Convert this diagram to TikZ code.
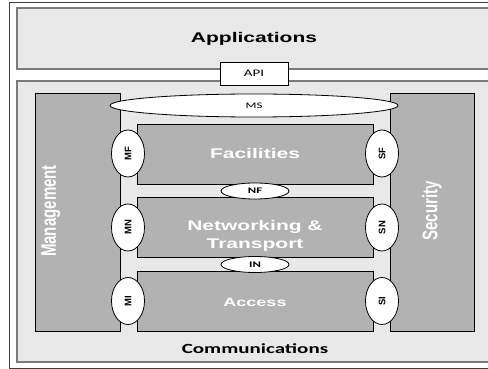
\documentclass[tikz,border=0pt]{standalone}
\usepackage{fontspec}
\setmainfont{Liberation Sans}
\newfontfamily\carlito{Carlito}
\usetikzlibrary{shapes.geometric}

\definecolor{layerlight}{HTML}{E8E8E8}
\definecolor{layerdark}{HTML}{B2B2B2}
\definecolor{layerline}{HTML}{7A7A7A}
\newcommand{\wide}[1]{\scalebox{1.5}[1]{#1}}
\newcommand{\tall}[1]{\scalebox{1}[1.4]{#1}}

\begin{document}
\begin{tikzpicture}[x=1pt,y=-1pt]
			\useasboundingbox (0,0) rectangle (488,369);
			\clip (0,0) rectangle (488,369);
			\draw [draw=black!75,line width=0.8pt] (9,2) rectangle (500,368);

			% the two big layers
			\begin{scope}[every node/.style={rectangle,draw=layerline,line width=1.6pt,fill=layerlight,inner sep=0pt}]
	    		\node [minimum width=474,minimum height=61] (apps) at (254,38.5) {};
	    		\node [minimum width=474,minimum height=281] (comm) at (254,221.5) {};
			\end{scope}
			\node [rectangle,draw=black,line width=0.8pt,fill=white,minimum width=68,minimum height=23,inner sep=0pt,font=\carlito\fontsize{10}{12}\selectfont] (api) at (254,73.5) {\wide{API}};

			% grey blocks
			\begin{scope}[every node/.style={rectangle,draw=black,line width=0.8pt,fill=layerdark,inner sep=0pt}]
	    		\node [minimum width=85,minimum height=238] (mgmt) at (77.5,212) {};
	    		\node [minimum width=84,minimum height=238] (sec) at (432,212) {};
	    		\node [minimum width=236,minimum height=60] (fac) at (255,154) {};
	    		\node [minimum width=236,minimum height=60] (net) at (255,227) {};
	    		\node [minimum width=236,minimum height=60] (acc) at (255,301) {};
			\end{scope}

			% interfaces
			\begin{scope}[every node/.style={ellipse,draw=black,line width=0.8pt,fill=white,inner sep=0pt}]
	    		\node [minimum width=288,minimum height=23,font=\carlito\fontsize{8.5}{10}\selectfont] (ms) at (254,105.5) {\wide{MS}};
	    		\node [minimum width=68,minimum height=16,font=\carlito\fontsize{8.5}{10}\selectfont\bfseries] (nf) at (255,191) {\wide{NF}};
	    		\node [minimum width=68,minimum height=16,font=\carlito\fontsize{8.5}{10}\selectfont\bfseries] (in) at (255,264.5) {\wide{IN}};
			\end{scope}
			\begin{scope}[every node/.style={ellipse,draw=black,line width=0.8pt,fill=white,inner sep=0pt,minimum width=33,minimum height=47,font=\fontsize{9.5}{11}\selectfont\bfseries}]
	    		\node (mf) at (128,153.5) {\rotatebox{90}{MF}};
	    		\node (mn) at (128,227.5) {\rotatebox{90}{MN}};
	    		\node (mi) at (128,301) {\rotatebox{90}{MI}};
	    		\node (sf) at (382,153.5) {\rotatebox{90}{SF}};
	    		\node (sn) at (382,227.5) {\rotatebox{90}{SN}};
	    		\node (si) at (382,301) {\rotatebox{90}{SI}};
			\end{scope}

			% layer names
			\begin{scope}[every node/.style={inner sep=0pt,font=\fontsize{14}{18}\selectfont\bfseries}]
	    		\node [anchor=base] (appstext) at (254,43) {\wide{Applications}};
	    		\node [anchor=base,font=\carlito\fontsize{14}{18}\selectfont\bfseries] (commtext) at (255,353) {\wide{Communications}};
	    		\node [anchor=base,text=white] (factext) at (255,158) {\wide{Facilities}};
	    		\node [text=white] (nettext) at (255,236) {\wide{\begin{tabular}{@{}c@{}}Networking \&\\Transport\end{tabular}}};
	    		\node [anchor=base,text=white,font=\fontsize{12}{14}\selectfont\bfseries] (acctext) at (255,306) {\wide{Access}};
	    		\node [rotate=90,text=white,font=\fontsize{15}{18}\selectfont\bfseries] (mgmttext) at (51,211) {\tall{Management}};
	    		\node [rotate=90,text=white,font=\fontsize{15}{18}\selectfont\bfseries] (sectext) at (432,211) {\tall{Security}};
			\end{scope}
\end{tikzpicture}
\end{document}
